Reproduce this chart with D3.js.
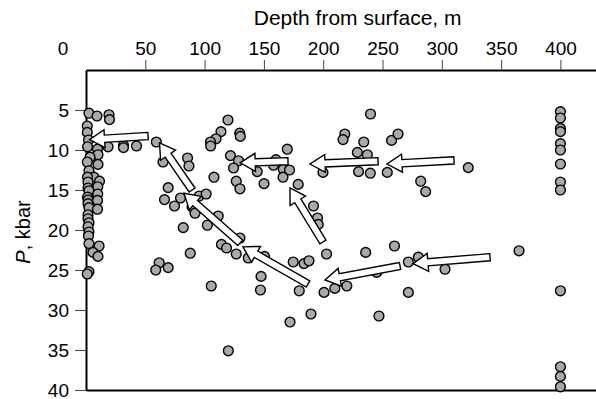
<!DOCTYPE html>
<html lang="en">

<head>
	<meta charset="UTF-8" />
	<title>P vs depth from surface</title>
	<script src="https://cdn.jsdelivr.net/npm/d3@7"></script>
	<style>
		body { margin: 0; background: #fff; }
		text { font-family: "Liberation Sans", Arial, sans-serif; }
	</style>
</head>

<body>
	<svg id="vis" width="596" height="399"></svg>

	<script>
		// samples [depth m, P kbar]
		var nearSurface = [
			[2.5, 5.4], [9.3, 5.75], [19.4, 5.6], [19.8, 6.2], [1.1, 7.0], [1.1, 7.8], [2.1, 8.75],
			[1.3, 9.6], [9.7, 9.9], [18.6, 9.6], [31.6, 9.4], [31.6, 9.7], [42.6, 9.5], [10.1, 10.6],
			[3.4, 10.9], [1.1, 11.5], [10.1, 11.8], [2.5, 12.6], [6.7, 13.4], [1.3, 13.4], [11.4, 13.9],
			[1.7, 14.0], [9.9, 14.6], [1.7, 14.75], [2.5, 15.1], [9.9, 15.5], [1.3, 15.9], [1.7, 16.25],
			[9.7, 16.3], [1.7, 16.7], [2.5, 17.2], [9.7, 17.4], [1.7, 18.1], [1.7, 18.6], [2.5, 19.1],
			[1.7, 19.6], [2.5, 20.25], [2.1, 20.75], [2.5, 21.7], [11.0, 22.0], [5.9, 22.8], [10.1, 23.3],
			[2.5, 25.2], [1.1, 25.5]
		];
		var midSamples = [
			[59.3, 9.0], [64.9, 11.5], [85.6, 11.0], [86.8, 12.0], [119.7, 6.25], [113.8, 7.7], [109.6, 8.6],
			[105.0, 9.0], [105.1, 9.5], [129.6, 7.9], [130.1, 8.3], [121.8, 10.7], [128.6, 11.35], [124.4, 12.25],
			[107.9, 13.4], [126.7, 13.9], [129.8, 14.85], [69.3, 14.7], [66.2, 16.2], [74.6, 17.0], [79.7, 16.0],
			[95.4, 15.75], [101.3, 15.5], [89.4, 17.1], [91.9, 17.9], [111.5, 18.25], [102.3, 19.4], [82.0, 19.7],
			[114.2, 21.8], [118.5, 22.25], [126.7, 23.0], [129.8, 21.0], [136.8, 23.5], [150.5, 23.3], [87.9, 22.9],
			[61.7, 24.1], [58.8, 25.0], [69.3, 24.7], [105.6, 27.0], [147.6, 25.8], [147.1, 27.5], [179.8, 27.6],
			[174.7, 24.0], [183.8, 24.2], [188.0, 23.85], [191.8, 17.0], [195.2, 18.5], [195.8, 19.3], [202.8, 23.0],
			[200.7, 27.8], [209.8, 27.3], [219.9, 27.0], [235.8, 22.8], [260.1, 22.0], [245.1, 25.3], [172.0, 31.5],
			[189.7, 30.5], [247.0, 30.75], [120.0, 35.1], [169.7, 9.9], [160.2, 11.2], [158.1, 11.9], [144.4, 12.7],
			[150.1, 14.2], [166.3, 12.4], [166.1, 13.4], [171.6, 12.5], [178.9, 14.3], [199.8, 12.8], [218.2, 8.0],
			[216.7, 8.7], [234.2, 9.0], [228.8, 10.3], [237.2, 10.6], [229.8, 12.7], [239.7, 12.9], [239.9, 5.5],
			[254.0, 12.8], [257.6, 8.8], [263.1, 8.0]
		];
		var deepSamples = [
			[322.3, 12.2], [282.2, 13.9], [286.4, 15.2], [365.1, 22.6], [280.2, 23.4], [271.8, 24.0],
			[302.7, 24.9], [271.8, 27.8]
		];
		var at400 = [
			[400, 5.2], [400, 6.0], [400, 7.3], [400, 7.7], [400, 9.2], [400, 10.0], [400, 11.75],
			[400, 14.0], [400, 15.0], [400, 27.6], [400, 37.1], [400, 38.3], [400, 39.6]
		];

		// arrows: from [depth, P] to [depth, P]
		var arrowFrom = [
			[52.3, 8.25], [89.4, 15.0], [130.0, 21.6], [187.2, 26.75], [199.8, 21.5],
			[170.3, 11.4], [246.2, 11.4], [310.3, 11.3], [340.6, 23.4], [264.8, 24.5]
		];
		var arrowTo = [
			[3.0, 8.7], [62.0, 9.1], [82.6, 15.4], [132.4, 22.1], [172.0, 14.75],
			[130.0, 11.6], [188.9, 11.75], [253.8, 11.75], [275.7, 24.2], [201.5, 26.25]
		];

		var xTicks = [50, 100, 150, 200, 250, 300, 350, 400];
		var yTicks = [5, 10, 15, 20, 25, 30, 35, 40];

		var svg = d3.select("#vis");

		// Echelles
		var x = d3.scaleLinear().domain([0, 430]).range([86, 596]);
		var y = d3.scaleLinear().domain([0, 40]).range([70, 390]);

		// axe du haut
		svg.append("g")
			.attr("transform", "translate(0," + y(0) + ")")
			.call(d3.axisTop(x).tickValues(xTicks).tickSize(10).tickSizeOuter(0).tickPadding(5));

		// axe de gauche
		svg.append("g")
			.attr("transform", "translate(" + x(0) + ",0)")
			.call(d3.axisLeft(y).tickValues(yTicks).tickSize(11).tickSizeOuter(0).tickPadding(6));

		// bottom line
		svg.append("g")
			.attr("transform", "translate(0," + y(40) + ")")
			.call(d3.axisBottom(x).tickValues([]).tickSizeOuter(0));

		svg.selectAll(".domain").attr("stroke", "#000").attr("stroke-width", 2);
		svg.selectAll(".tick line").attr("stroke", "#444").attr("stroke-width", 1);
		svg.selectAll(".tick text").attr("font-size", 19).attr("fill", "#000")
			.style("font-family", "'Liberation Sans', Arial, sans-serif");

		// "0" sits left of the frame
		svg.append("text")
			.attr("x", x(0) - 23)
			.attr("y", y(0) - 15)
			.attr("text-anchor", "middle")
			.attr("font-size", 19)
			.text("0");

		// titres
		svg.append("text")
			.attr("x", x(229))
			.attr("y", 25)
			.attr("text-anchor", "middle")
			.attr("font-size", 21)
			.text("Depth from surface, m");

		var yTitle = svg.append("text")
			.attr("transform", "translate(30,232) rotate(-90)")
			.attr("text-anchor", "middle")
			.attr("font-size", 20);
		yTitle.append("tspan").attr("font-style", "italic").text("P");
		yTitle.append("tspan").text(", kbar");

		// points
		var allSamples = nearSurface.concat(midSamples, deepSamples, at400);
		svg.append("g").selectAll("circle")
			.data(allSamples)
			.join("circle")
			.attr("cx", function (d) { return x(d[0]); })
			.attr("cy", function (d) { return y(d[1]); })
			.attr("r", 4.9)
			.attr("fill", "#a9a9a9")
			.attr("stroke", "#000")
			.attr("stroke-width", 1.4);

		// block arrows
		function arrowPath(a, b) {
			var x1 = x(a[0]), y1 = y(a[1]), x2 = x(b[0]), y2 = y(b[1]);
			var len = Math.hypot(x2 - x1, y2 - y1);
			var ux = (x2 - x1) / len, uy = (y2 - y1) / len;
			var nx = -uy, ny = ux;
			var w = 3.6, hw = 9, hl = 15;
			var bx = x2 - ux * hl, by = y2 - uy * hl;
			var p = [
				[x1 + nx * w, y1 + ny * w],
				[bx + nx * w, by + ny * w],
				[bx + nx * hw, by + ny * hw],
				[x2, y2],
				[bx - nx * hw, by - ny * hw],
				[bx - nx * w, by - ny * w],
				[x1 - nx * w, y1 - ny * w]
			];
			return "M" + p.map(function (q) { return q[0].toFixed(1) + "," + q[1].toFixed(1); }).join("L") + "Z";
		}

		svg.append("g").selectAll("path")
			.data(arrowFrom)
			.join("path")
			.attr("d", function (d, i) { return arrowPath(d, arrowTo[i]); })
			.attr("fill", "#fff")
			.attr("stroke", "#000")
			.attr("stroke-width", 1.4)
			.attr("stroke-linejoin", "miter");
	</script>
</body>

</html>
